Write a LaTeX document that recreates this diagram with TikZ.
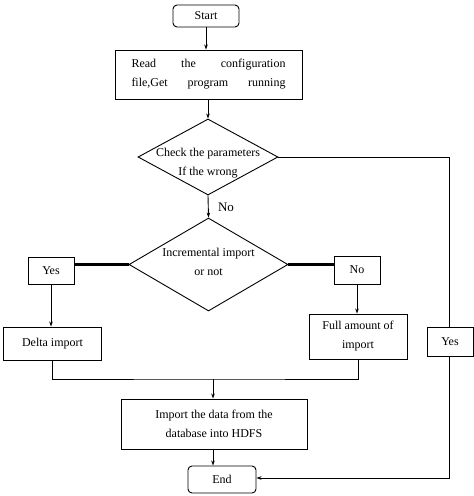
\documentclass[tikz,border=0pt]{standalone}
\usepackage{fontspec}
\setmainfont{Liberation Serif}
\usetikzlibrary{shapes.geometric,arrows.meta}
\begin{document}
\begin{tikzpicture}[x=1pt,y=-1pt,
  every node/.style={font=\fontsize{12}{19}\selectfont},
  box/.style={draw,line width=0.9pt,inner sep=0pt,align=center},
  term/.style={box,rounded corners=4pt},
  dia/.style={draw,line width=0.9pt,diamond,inner sep=0pt},
  ln/.style={line width=0.9pt},
  arr/.style={ln,-{Stealth[length=5pt,width=3.5pt]}},
  thk/.style={line width=2.6pt}]
\useasboundingbox[fill=white] (0,0) rectangle (474,496);
% nodes
\node[term,minimum width=66pt,minimum height=22pt] (start) at (206,16) {Start};
\node[box,minimum width=187pt,minimum height=49pt] (read) at (208.5,74.5)
  {\makebox[154pt][s]{Read\hfill the\hfill configuration}\\\makebox[154pt][s]{file,Get\hfill program\hfill running}};
\node[dia,minimum width=140pt,minimum height=76pt] (d1) at (208,157) {};
\node[align=center] (d1t) at (208,163) {Check the parameters\\If the wrong};
\node[dia,minimum width=159pt,minimum height=93pt] (d2) at (208.5,264.5) {};
\node[align=center] (d2t) at (208.5,262) {Incremental import\\or not};
\node[box,minimum width=46pt,minimum height=27pt] (yes1) at (51,270.5) {Yes};
\node[box,minimum width=46pt,minimum height=28pt] (no1) at (357,270) {No};
\node[box,minimum width=98pt,minimum height=33pt] (delta) at (52.5,343.5) {Delta import};
\node[box,minimum width=98pt,minimum height=45pt] (full) at (358,336.5) {Full amount of\\import};
\node[box,minimum width=46pt,minimum height=29pt] (yes2) at (450,341.5) {Yes};
\node[box,minimum width=186pt,minimum height=50pt] (imp) at (214,424) {Import the data from the\\database into HDFS};
\node[term,minimum width=68pt,minimum height=27pt] (endn) at (222,479.5) {End};
\node[font=\fontsize{13}{15}\selectfont] (nolab) at (226,207) {No};
% connectors
\draw[arr] (start.south) -- (start.south |- read.north);
\draw[arr] (read.south -| d1.north) -- (d1.north);
\draw[arr] (d1.south) -- (d2.north);
\draw[thk] (d2.west) -- (d2.west -| yes1.east);
\draw[thk] (d2.east) -- (d2.east -| no1.west);
\draw[arr] (yes1.south) -- (yes1.south |- delta.north);
\draw[arr] (no1.south) -- (no1.south |- full.north);
\coordinate (m) at (213,379);
\draw[ln] (delta.south) |- (m) -| (full.south);
\draw[arr] (m) -- (m |- imp.north);
\draw[arr] (m |- imp.south) -- (m |- endn.north);
\coordinate (c1) at (449,157);
\draw[ln] (d1.east) -- (c1) -- (c1 |- yes2.north);
\coordinate (c2) at (449,478);
\draw[arr] (c1 |- yes2.south) -- (c2) -- (c2 -| endn.east);
\end{tikzpicture}
\end{document}
